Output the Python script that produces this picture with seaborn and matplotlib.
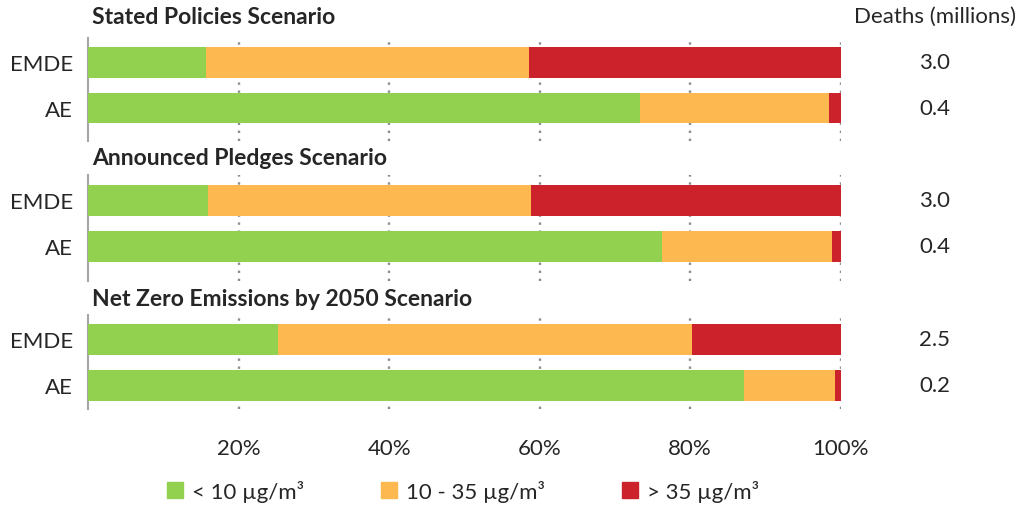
import numpy as np
import pandas as pd
import matplotlib
matplotlib.use("Agg")
import matplotlib.pyplot as plt
import matplotlib.patches as mpatches
import seaborn as sns

# ─── Data ─────────────────────────────────────────────────────────────────────
scenarios = ["Stated Policies Scenario", "Announced Pledges Scenario",
             "Net Zero Emissions by 2050 Scenario"]
regions = ["EMDE", "AE"]
below_10 = [[15.7, 73.3], [16.0, 76.2], [25.2, 87.2]]
from_10_to_35 = [[42.9, 25.1], [42.9, 22.6], [55.1, 12.1]]
above_35 = [[41.4, 1.6], [41.1, 1.2], [19.7, 0.7]]
deaths = [[3.0, 0.4], [3.0, 0.4], [2.5, 0.2]]
x_ticks = [20, 40, 60, 80, 100]
legend_labels = ["< 10 µg/m³", "10 - 35 µg/m³", "> 35 µg/m³"]

GREEN, ORANGE, RED = "#92D050", "#FDB850", "#CC222B"
GRID = "#8C8C8C"
FS = 16

sns.set_style("white")
plt.rcParams["font.family"] = ["Lato", "DejaVu Sans"]

W, H = 1025, 506
fig = plt.figure(figsize=(W / 100, H / 100), dpi=100)

# panel boxes in pixels: (top, bottom) of the axis, and y-limits
panels = [(39, 142, (1.72, -0.53)), (176, 282, (1.75, -0.55)), (316, 410, (1.52, -0.53))]
title_y = [17, 159, 299]
x0, x1 = 88, 840.7

for i, (top, bot, ylim) in enumerate(panels):
    ax = fig.add_axes([x0 / W, 1 - bot / H, (x1 - x0) / W, (bot - top) / H])
    df = pd.DataFrame({
        "region": regions,
        "green": below_10[i],
        "orange": np.add(below_10[i], from_10_to_35[i]),
        "red": np.add(np.add(below_10[i], from_10_to_35[i]), above_35[i]),
    })
    for col, c in [("red", RED), ("orange", ORANGE), ("green", GREEN)]:
        sns.barplot(data=df, x=col, y="region", order=regions, color=c,
                    width=0.674, linewidth=0, saturation=1, ax=ax, zorder=3)
    ax.set_xlim(0, 100)
    ax.set_ylim(*ylim)
    ax.set_xlabel("")
    ax.set_ylabel("")
    ax.set_xticks(x_ticks)
    ax.grid(axis="x", color=GRID, linestyle=(0, (1, 2.4)), linewidth=1.7, zorder=1)
    ax.grid(axis="y", visible=False)
    for s in ["top", "right", "bottom"]:
        ax.spines[s].set_visible(False)
    ax.spines["left"].set_color("#A6A6A6")
    ax.spines["left"].set_linewidth(1.5)
    ax.tick_params(axis="both", length=0)
    ax.tick_params(axis="y", labelsize=FS, pad=11)
    if i == 2:
        ax.set_xticklabels([f"{t}%" for t in x_ticks], fontsize=FS)
        ax.tick_params(axis="x", pad=21)
    else:
        ax.set_xticklabels([])
    for j, d in enumerate(deaths[i]):
        ax.text(112.5, j, f"{d:.1f}", ha="center", va="center", fontsize=FS,
                clip_on=False)
    fig.text(92 / W, 1 - title_y[i] / H, scenarios[i], ha="left", va="center",
             fontsize=FS + 0.5, fontweight="bold")

fig.text(935 / W, 1 - 17 / H, "Deaths (millions)", ha="center", va="center",
         fontsize=FS)

handles = [mpatches.Patch(color=c, label=l)
           for c, l in zip([GREEN, ORANGE, RED], legend_labels)]
fig.legend(handles=handles, loc="center", bbox_to_anchor=(463 / W, 1 - 492 / H),
           ncol=3, frameon=False, fontsize=FS, handlelength=0.7, handleheight=0.7,
           handletextpad=0.4, columnspacing=3.5)

fig.savefig("out.png", dpi=100, facecolor="white")
